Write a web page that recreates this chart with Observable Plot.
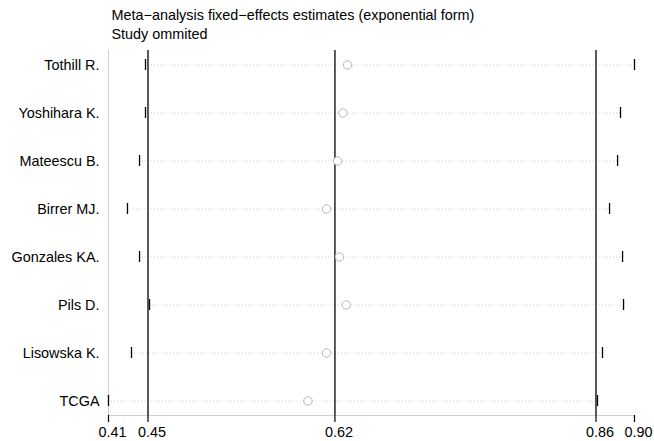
<!DOCTYPE html>
<html>
<head>
<meta charset="utf-8">
<script src="https://cdn.jsdelivr.net/npm/d3@7"></script>
<script src="https://cdn.jsdelivr.net/npm/@observablehq/plot@0.6"></script>
<style>
  html, body { margin: 0; padding: 0; background: #fff; }
  #chart svg { display: block; }
</style>
</head>
<body>
<div id="chart"></div>
<script>
const titleLine1 = "Meta\u2212analysis fixed\u2212effects estimates (exponential form)";
const titleLine2 = "Study ommited";

const studies = ["Tothill R.", "Yoshihara K.", "Mateescu B.", "Birrer MJ.", "Gonzales KA.", "Pils D.", "Lisowska K.", "TCGA"];
const estimate = [0.6316, 0.6274, 0.6224, 0.6123, 0.6242, 0.6304, 0.6123, 0.5951];
const lower    = [0.4454, 0.4454, 0.4399, 0.4288, 0.4399, 0.4491, 0.4325, 0.4113];
const upper    = [0.8961, 0.8832, 0.8805, 0.8731, 0.8851, 0.8860, 0.8666, 0.8620];

const overallEstimate = 0.62;
const overallLower = 0.4477;
const overallUpper = 0.8606;

const xTickLabels = ["0.41", "0.45", "0.62", "0.86", "0.90"];

const rows = studies.map((s, i) => ({study: s, est: estimate[i], lo: lower[i], hi: upper[i]}));
const xMin = d3.min(lower);
const xMax = d3.max(upper);
const xTicks = [xMin, overallLower, overallEstimate, overallUpper, xMax];
const overallLines = [overallLower, overallEstimate, overallUpper];

const chart = Plot.plot({
  width: 654,
  height: 441,
  marginTop: 50,
  marginBottom: 26,
  marginLeft: 108,
  marginRight: 20,
  style: {fontFamily: "'Liberation Sans', Arial, Helvetica, sans-serif", fontSize: "14.4px", color: "#000", background: "#fff"},
  x: {domain: [xMin, xMax], ticks: xTicks},
  y: {type: "band", domain: studies, paddingInner: 0.7735, paddingOuter: 0.144},
  marks: [
    Plot.ruleX([xMin], {stroke: "#cfcfcf", strokeWidth: 1}),
    Plot.frame({anchor: "bottom", stroke: "#cfcfcf", strokeWidth: 1}),
    Plot.ruleY(rows, {y: "study", x1: "lo", x2: "hi", stroke: "#d4d4d4", strokeDasharray: "1,2", strokeWidth: 1}),
    Plot.ruleX(overallLines, {stroke: "#000", strokeWidth: 1.3}),
    Plot.tickX(rows, {x: "lo", y: "study", stroke: "#000", strokeWidth: 1.3}),
    Plot.tickX(rows, {x: "hi", y: "study", stroke: "#000", strokeWidth: 1.3}),
    Plot.dot(rows, {x: "est", y: "study", r: 4.2, stroke: "#b8b8b8", fill: "#fff", strokeWidth: 1}),
    Plot.axisX(xTicks, {tickSize: 7, strokeWidth: 1.2, tickFormat: () => "", label: null}),
    Plot.axisX(xTicks, {tickSize: 0, tickPadding: 11, dx: 4, tickFormat: (d, i) => xTickLabels[i], label: null}),
    Plot.axisY({tickSize: 0, tickPadding: 9, label: null}),
    Plot.text([titleLine1], {text: d => d, frameAnchor: "top-left", textAnchor: "start", lineAnchor: "bottom", dx: 3, dy: -31, fill: "#000"}),
    Plot.text([titleLine2], {text: d => d, frameAnchor: "top-left", textAnchor: "start", lineAnchor: "bottom", dx: 3, dy: -12, fill: "#000"})
  ]
});
document.getElementById("chart").appendChild(chart);
</script>
</body>
</html>
